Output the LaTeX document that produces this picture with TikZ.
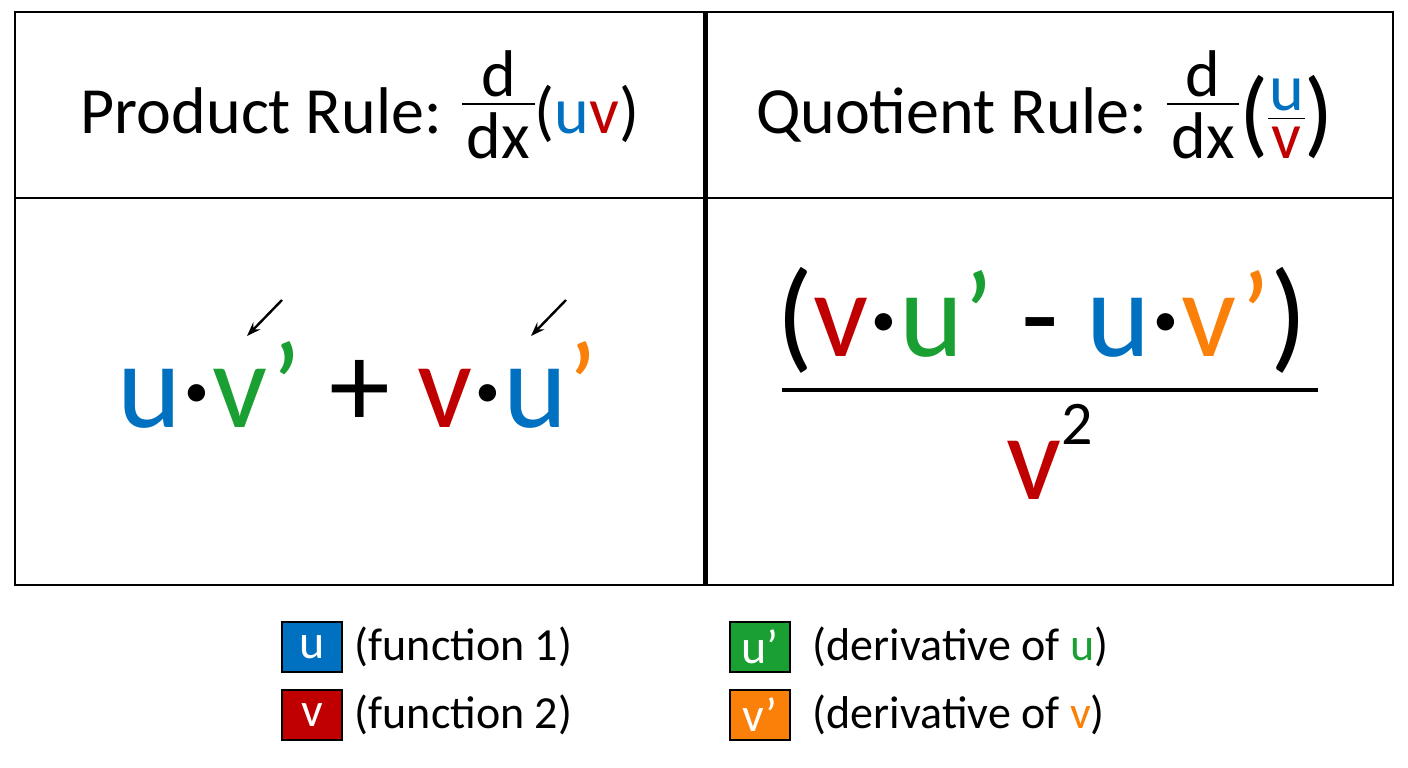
\documentclass[tikz,border=0pt]{standalone}
\usepackage{fontspec}
\setmainfont{Carlito}
\usetikzlibrary{positioning,arrows.meta}
\definecolor{fblue}{RGB}{0,112,192}
\definecolor{fred}{RGB}{192,0,0}
\definecolor{fgreen}{RGB}{26,160,50}
\definecolor{forange}{RGB}{250,128,10}
\newcommand{\U}{\textcolor{fblue}{u}}
\newcommand{\V}{\textcolor{fred}{v}}
\newcommand{\fs}[1]{\fontsize{#1}{#1}\selectfont}
\newcommand{\ddx}{\raisebox{-0.38em}{\shortstack{d\\[0.05em]\rule{1.1em}{1.2pt}\\[0.08em]dx}}}
\tikzset{
  title/.style={font=\fs{66}, inner sep=0pt},
  formula/.style={font=\fs{122}, inner sep=0pt},
  key/.style={draw=black, line width=1.2pt, minimum width=60pt, minimum height=50pt, inner sep=0pt, text=white, font=\fs{48}},
  keytext/.style={font=\fs{46}, inner sep=0pt, anchor=west},
  hint/.style={-{Stealth[length=14pt,width=10pt]}, line width=2.4pt}
}
\begin{document}
\begin{tikzpicture}[x=1pt, y=-1pt]
	\useasboundingbox (0,0) rectangle (1408,768);
	\fill[white] (0,0) rectangle (1408,768);

	% table
	\draw[line width=2pt] (15,12) rectangle (1393,585);
	\draw[line width=2pt] (15,198) -- (1393,198);
	\draw[line width=5pt] (705,12) -- (705,585);

	% headers
	\node[title] (prod) at (360,105) {Product Rule: \ddx(\U\V)};
	\node[title] (quot) at (1045,105) {Quotient Rule: \ddx{\fs{96}\raisebox{-0.12em}{(}}\raisebox{-0.38em}{\shortstack{\U\\[0.05em]\rule{0.55em}{1.2pt}\\[0.08em]\V}}{\fs{96}\raisebox{-0.12em}{)}}};

	% product rule
	\node[formula] (prodf) at (358,385) {\U·\textcolor{fgreen}{v’} + \V·\U\textcolor{forange}{’}};
	\coordinate (a1s) at (282,300);
	\coordinate (a1e) at (247,336);
	\coordinate (a2s) at (566,300);
	\coordinate (a2e) at (531,336);
	\draw[hint] (a1s) -- (a1e);
	\draw[hint] (a2s) -- (a2e);

	% quotient rule
	\node[formula] (num) at (1042,320) {(\V·\textcolor{fgreen}{u’} - \U·\textcolor{forange}{v’})};
	\coordinate (barl) at (782,390);
	\coordinate (barr) at (1318,390);
	\draw[line width=4pt] (barl) -- (barr);
	\node[formula] (den) at (1050,452) {\V\raisebox{0.45em}{\fs{62}2}};

	% legend
	\node[key, fill=fblue] (ku) at (312,647) {u};
	\node[key, fill=fred] (kv) at (312,715) {v};
	\node[key, fill=fgreen] (kdu) at (760,647) {u’};
	\node[key, fill=forange] (kdv) at (760,715) {v’};
	\node[keytext, right=12pt of ku] (tu) {(function 1)};
	\node[keytext, right=12pt of kv] (tv) {(function 2)};
	\node[keytext, right=22pt of kdu] (tdu) {(derivative of \textcolor{fgreen}{u})};
	\node[keytext, right=22pt of kdv] (tdv) {(derivative of \textcolor{forange}{v})};
\end{tikzpicture}
\end{document}
